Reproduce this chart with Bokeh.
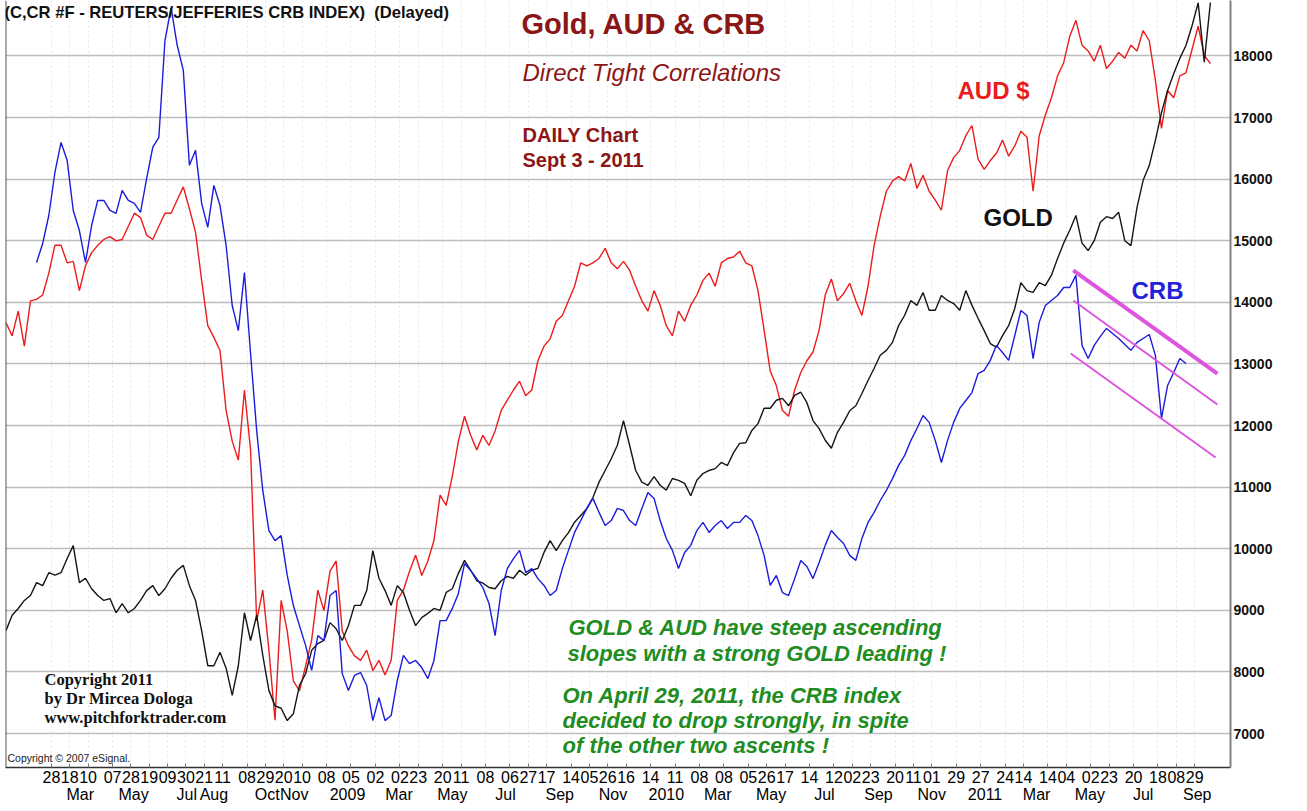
import pandas as pd
from bokeh.plotting import figure
from bokeh.models import Range1d, LinearAxis, FixedTicker, Grid, Label, Span
from bokeh.embed import file_html
from bokeh.resources import INLINE

# ---------------- data ----------------
START_WEEK = "2007-12-07"
N_WEEKS = 198
CRB_FIRST = 5

GOLD = [8670, 8920, 9030, 9160, 9240, 9450, 9400, 9610, 9570, 9610,
        9840, 10050, 9450, 9520, 9350, 9240, 9160, 9190, 8960, 9110,
        8960, 9030, 9160, 9320, 9400, 9240, 9350, 9520, 9650, 9730,
        9400, 9160, 8670, 8100, 8100, 8320, 8060, 7620, 8100, 8960,
        8510, 8920, 8270, 7700, 7450, 7410, 7210, 7320, 7780, 7970,
        8350, 8460, 8510, 8800, 8700, 8510, 8750, 9080, 9080, 9320,
        9970, 9520, 9320, 9080, 9400, 9290, 9000, 8750, 8880, 8950,
        9030, 9000, 9290, 9350, 9600, 9810, 9650, 9480, 9440, 9370,
        9350, 9480, 9550, 9520, 9650, 9570, 9650, 9680, 9940, 10130,
        9970, 10130, 10260, 10430, 10540, 10650, 10830, 11080, 11270, 11460,
        11680, 12080, 11680, 11270, 11080, 11030, 11170, 11030, 10950, 11140,
        11110, 11060, 10860, 11110, 11220, 11270, 11300, 11400, 11350, 11560,
        11710, 11720, 11920, 12030, 12280, 12280, 12410, 12440, 12320, 12490,
        12540, 12370, 12080, 11950, 11760, 11630, 11890, 12050, 12240, 12320,
        12520, 12730, 12930, 13140, 13220, 13350, 13620, 13790, 14030, 13950,
        14160, 13870, 13870, 14110, 14030, 13980, 13870, 14190, 13950, 13740,
        13540, 13330, 13270, 13460, 13620, 13900, 14320, 14190, 14160, 14320,
        14270, 14440, 14710, 14960, 15170, 15410, 14960, 14840, 15000, 15300,
        15390, 15360, 15460, 15000, 14920, 15540, 15980, 16220, 16630, 17080,
        17440, 17710, 17960, 18170, 18490, 18860, 17900, 18867]

AUD = [0.887, 0.878, 0.895, 0.871, 0.902, 0.903, 0.906, 0.921, 0.940, 0.940,
       0.928, 0.929, 0.909, 0.926, 0.935, 0.940, 0.944, 0.946, 0.943, 0.944,
       0.953, 0.962, 0.959, 0.947, 0.944, 0.953, 0.962, 0.962, 0.971, 0.980,
       0.965, 0.949, 0.916, 0.885, 0.877, 0.868, 0.827, 0.806, 0.793, 0.841,
       0.800, 0.683, 0.704, 0.663, 0.615, 0.697, 0.676, 0.642, 0.635, 0.652,
       0.670, 0.704, 0.690, 0.717, 0.724, 0.676, 0.666, 0.659, 0.656, 0.663,
       0.649, 0.656, 0.646, 0.656, 0.697, 0.704, 0.717, 0.728, 0.714, 0.724,
       0.738, 0.769, 0.762, 0.782, 0.806, 0.823, 0.810, 0.800, 0.810, 0.803,
       0.813, 0.827, 0.834, 0.841, 0.847, 0.837, 0.841, 0.861, 0.871, 0.876,
       0.888, 0.892, 0.902, 0.912, 0.928, 0.926, 0.928, 0.931, 0.938, 0.928,
       0.924, 0.929, 0.923, 0.912, 0.902, 0.895, 0.909, 0.899, 0.885, 0.878,
       0.895, 0.888, 0.899, 0.906, 0.916, 0.921, 0.912, 0.928, 0.931, 0.932,
       0.936, 0.928, 0.926, 0.909, 0.882, 0.854, 0.844, 0.827, 0.823, 0.841,
       0.853, 0.861, 0.867, 0.882, 0.906, 0.917, 0.902, 0.907, 0.914, 0.902,
       0.892, 0.912, 0.940, 0.960, 0.977, 0.984, 0.987, 0.984, 0.996, 0.979,
       0.988, 0.977, 0.971, 0.964, 0.991, 1.000, 1.005, 1.015, 1.022, 0.999,
       0.992, 0.998, 1.003, 1.012, 1.001, 1.008, 1.018, 1.014, 0.977, 1.015,
       1.029, 1.041, 1.056, 1.065, 1.083, 1.094, 1.077, 1.073, 1.066, 1.077,
       1.061, 1.066, 1.072, 1.068, 1.077, 1.073, 1.087, 1.080, 1.053, 1.020,
       1.046, 1.041, 1.056, 1.058, 1.074, 1.090, 1.070, 1.06445]

CRB = [376.9, 384.1, 394.7, 411.0, 422.4,
       415.6, 396.6, 389.0, 376.9, 390.9, 400.4, 400.4, 396.6, 395.5, 404.2,
       400.4, 399.3, 395.9, 408.7, 420.5, 424.3, 461.0, 473.5, 459.2, 449.7,
       413.7, 419.4, 399.3, 390.2, 406.1, 398.5, 383.4, 360.6, 351.1, 373.1,
       342.4, 313.2, 290.5, 275.3, 271.5, 273.4, 258.3, 246.9, 239.3, 231.8,
       222.3, 235.5, 233.6, 250.7, 252.6, 221.1, 214.7, 220.4, 221.5, 216.6,
       203.3, 212.0, 203.3, 205.2, 218.5, 228.0, 224.9, 226.1, 223.4, 219.2,
       226.1, 241.2, 241.2, 245.8, 251.5, 262.8, 260.2, 257.1, 253.7, 247.7,
       235.5, 252.6, 260.9, 264.7, 267.8, 259.4, 260.9, 257.1, 254.5, 250.7,
       252.6, 260.9, 267.8, 274.6, 279.1, 283.7, 287.5, 282.2, 277.2, 279.1,
       283.7, 282.9, 279.1, 277.2, 283.7, 289.7, 287.5, 279.1, 272.3, 267.8,
       260.9, 267.0, 269.7, 275.3, 278.4, 274.6, 277.2, 279.1, 276.1, 278.4,
       278.4, 281.0, 279.1, 273.4, 265.9, 254.5, 258.3, 251.8, 250.7, 257.1,
       264.0, 261.7, 257.1, 263.2, 269.7, 275.3, 272.7, 270.4, 265.9, 264.0,
       272.3, 278.4, 282.2, 286.7, 290.5, 295.0, 300.0, 303.8, 309.4, 314.0,
       318.9, 316.3, 309.4, 301.1, 309.4, 316.3, 321.6, 324.6, 327.6, 334.8,
       336.0, 339.8, 345.5, 342.8, 339.8, 349.2, 358.7, 356.8, 340.5, 354.2,
       360.6, 362.5, 364.4, 367.4, 367.4, 372.0, 345.5, 340.5, 345.5, 348.9,
       351.9, 350.0, 348.1, 345.8, 343.6, 346.6, 348.1, 349.6, 341.7, 317.8,
       330.3, 335.2, 340.5, 338.6]

# CRB down-channel drawn on the chart (CRB units)
CHANNEL_DATES = ["2011-04-12", "2011-09-24"]
CHANNEL_UPPER = [373.9, 334.8]
CHANNEL_MID = [362.5, 323.1]
CHANNEL_LOW_DATES = ["2011-04-09", "2011-09-22"]
CHANNEL_LOW = [342.4, 303.0]

PRICE_TICKS = [7000, 8000, 9000, 10000, 11000, 12000, 13000, 14000,
               15000, 16000, 17000, 18000]

DAY_TICKS = ["2008-01-28", "2008-02-18", "2008-03-10", "2008-04-07", "2008-04-28",
             "2008-05-19", "2008-06-09", "2008-06-30", "2008-07-21", "2008-08-11",
             "2008-09-08", "2008-09-29", "2008-10-20", "2008-11-10", "2008-12-08",
             "2009-01-05", "2009-02-02", "2009-03-02", "2009-03-23", "2009-04-20",
             "2009-05-11", "2009-06-08", "2009-07-06", "2009-07-27", "2009-08-17",
             "2009-09-14", "2009-10-05", "2009-10-26", "2009-11-16", "2009-12-14",
             "2010-01-11", "2010-02-08", "2010-03-08", "2010-04-05", "2010-04-26",
             "2010-05-17", "2010-06-14", "2010-07-12", "2010-08-02", "2010-08-23",
             "2010-09-20", "2010-10-11", "2010-11-01", "2010-11-29", "2010-12-27",
             "2011-01-24", "2011-02-14", "2011-03-14", "2011-04-04", "2011-05-02",
             "2011-05-23", "2011-06-20", "2011-07-18", "2011-08-08", "2011-08-29"]

MONTH_TICKS = ["2008-03-01", "2008-05-01", "2008-07-01", "2008-08-01", "2008-10-01",
               "2008-11-01", "2009-01-01", "2009-03-01", "2009-05-01", "2009-07-01",
               "2009-09-01", "2009-11-01", "2010-01-01", "2010-03-01", "2010-05-01",
               "2010-07-01", "2010-09-01", "2010-11-01", "2011-01-01", "2011-03-01",
               "2011-05-01", "2011-07-01", "2011-09-01"]
MONTH_LABELS = ["Mar", "May", "Jul", "Aug", "Oct", "Nov", "2009", "Mar", "May", "Jul",
                "Sep", "Nov", "2010", "Mar", "May", "Jul", "Sep", "Nov", "2011", "Mar",
                "May", "Jul", "Sep"]

# ---------------- layout helpers ----------------
DAY_MS = 86400000.0
X0_MS = pd.Timestamp("2009-01-01").value / 1e6
PX_PER_DAY = 319.0 / 365.25


def xpx(px):
    return X0_MS + (px - 347.0) / PX_PER_DAY * DAY_MS


def ypx(py):
    return 7000.0 + (733.0 - py) * 1000.0 / 61.6


def ms(s):
    return pd.Timestamp(s).value / 1e6


Y_LO, Y_HI = ypx(767), ypx(0)
AUD_RANGE = Range1d(0.61 + (Y_LO - 7097) / 23721.0, 0.61 + (Y_HI - 7097) / 23721.0)
CRB_RANGE = Range1d(200.3 + (Y_LO - 7081) / 42.84, 200.3 + (Y_HI - 7081) / 42.84)

weeks = pd.date_range(START_WEEK, periods=N_WEEKS, freq="7D")
crb_weeks = weeks[CRB_FIRST:CRB_FIRST + len(CRB)]

p = figure(width=1300, height=809, output_backend="svg", toolbar_location=None,
           x_axis_type=None, y_axis_type=None,
           x_range=Range1d(xpx(5), xpx(1230)), y_range=Range1d(Y_LO, Y_HI),
           min_border_left=5, min_border_top=0, min_border_right=70,
           min_border_bottom=42, outline_line_color=None,
           background_fill_color="white", border_fill_color="white")
p.extra_y_ranges = {"aud": AUD_RANGE, "crb": CRB_RANGE}

day_ms = [ms(d) for d in DAY_TICKS]
month_ms = [ms(d) for d in MONTH_TICKS]

# grids
p.add_layout(Grid(dimension=0, ticker=FixedTicker(ticks=day_ms),
                  grid_line_color="#e6e6e6", grid_line_dash="2 3", grid_line_width=1))
p.add_layout(Grid(dimension=1, ticker=FixedTicker(ticks=PRICE_TICKS),
                  grid_line_color="#bdbdbd", grid_line_width=1.5))

# axes
ax_r = LinearAxis(ticker=FixedTicker(ticks=PRICE_TICKS))
ax_r.axis_line_color = "#808080"
ax_r.axis_line_width = 2
ax_r.major_tick_out = 0
ax_r.major_tick_in = 0
ax_r.major_label_standoff = 3
ax_r.major_label_text_font = "Liberation Sans"
ax_r.major_label_text_font_size = "14px"
ax_r.major_label_text_font_style = "bold"
ax_r.major_label_text_color = "#111111"
p.add_layout(ax_r, "right")

AX_FONT = "Liberation Sans"
ax_d = LinearAxis(ticker=FixedTicker(ticks=day_ms, minor_ticks=[]))
ax_d.major_label_overrides = {t: pd.Timestamp(d).strftime("%d") for t, d in zip(day_ms, DAY_TICKS)}
ax_d.axis_line_color = "#333333"
ax_d.axis_line_width = 1.5
ax_d.major_tick_in = 4
ax_d.major_tick_out = 0
ax_d.major_tick_line_color = "#777777"
ax_d.major_label_standoff = 3
ax_d.major_label_text_font = AX_FONT
ax_d.major_label_text_font_size = "16px"
ax_d.major_label_text_color = "#000000"
p.add_layout(ax_d, "below")

ax_m = LinearAxis(ticker=FixedTicker(ticks=month_ms, minor_ticks=[]))
ax_m.major_label_overrides = {t: lab for t, lab in zip(month_ms, MONTH_LABELS)}
ax_m.axis_line_color = None
ax_m.major_tick_line_color = None
ax_m.major_tick_out = 0
ax_m.major_tick_in = 0
ax_m.major_label_standoff = 0
ax_m.major_label_text_font = AX_FONT
ax_m.major_label_text_font_size = "16px"
ax_m.major_label_text_color = "#000000"
p.add_layout(ax_m, "below")

p.add_layout(Span(location=xpx(5), dimension="height", line_color="#555555", line_width=2))

# series
p.line(weeks, AUD, y_range_name="aud", line_color="#ec1c1c", line_width=1.4)
p.line(weeks, GOLD, line_color="#151515", line_width=1.4)
p.line(crb_weeks, CRB, y_range_name="crb", line_color="#1c1cdc", line_width=1.4)

# channel
ch_x = [pd.Timestamp(d) for d in CHANNEL_DATES]
ch_xl = [pd.Timestamp(d) for d in CHANNEL_LOW_DATES]
p.line(ch_x, CHANNEL_UPPER, y_range_name="crb", line_color="#dd55dd", line_width=4)
p.line(ch_x, CHANNEL_MID, y_range_name="crb", line_color="#dd55dd", line_width=2)
p.line(ch_xl, CHANNEL_LOW, y_range_name="crb", line_color="#dd55dd", line_width=2)

# texts
MAROON = "#8c1616"
GREEN = "#218c21"


def lab(text, px, py, size, color, style="normal", font="Liberation Sans"):
    p.add_layout(Label(x=xpx(px), y=ypx(py), text=text, text_font=font,
                       text_font_size=f"{size}px", text_font_style=style,
                       text_color=color, text_align="left", text_baseline="middle"))


lab("(C,CR #F - REUTERS/JEFFERIES CRB INDEX)\u00a0\u00a0(Delayed)", 4, 12, 16.6, "#111111", "bold")
lab("Gold, AUD & CRB", 521, 23, 29, MAROON, "bold")
lab("Direct Tight Correlations", 522, 72, 24, MAROON, "italic")
lab("DAILY Chart", 522, 134, 20, MAROON, "bold")
lab("Sept 3 - 2011", 522, 159, 20, MAROON, "bold")
lab("AUD $", 957, 90, 24, "#e81c1c", "bold")
lab("GOLD", 983, 217, 24, "#111111", "bold")
lab("CRB", 1131, 290, 24, "#2222dd", "bold")
lab("GOLD & AUD have steep ascending", 568, 627, 22, GREEN, "bold italic")
lab("slopes with a strong GOLD leading !", 567, 653, 22, GREEN, "bold italic")
lab("On April 29, 2011, the CRB index", 562, 695, 22, GREEN, "bold italic")
lab("decided to drop strongly, in spite", 562, 720, 22, GREEN, "bold italic")
lab("of the other two ascents !", 562, 745, 22, GREEN, "bold italic")
lab("Copyright 2011", 44, 679, 16.5, "#111111", "bold", "Liberation Serif")
lab("by Dr Mircea Dologa", 44, 698, 16.5, "#111111", "bold", "Liberation Serif")
lab("www.pitchforktrader.com", 44, 717, 16.5, "#111111", "bold", "Liberation Serif")
lab("Copyright \u00a9 2007 eSignal.", 7, 757, 10.5, "#222222")

# last-value boxes on the right edge
XE = xpx(1230)
p.add_layout(Label(x=XE, y=GOLD[-1], x_offset=2, y_offset=-6, text=f"{GOLD[-1]}",
                   text_font="Liberation Sans", text_font_size="14px", text_font_style="bold",
                   text_color="white", background_fill_color="#000000", padding=1,
                   text_align="left", text_baseline="middle"))
p.add_layout(Label(x=XE, y=AUD[-1], y_range_name="aud", x_offset=2, text=f"{AUD[-1]:.5f}",
                   text_font="Liberation Sans", text_font_size="16px", text_font_style="bold",
                   text_color="white", background_fill_color="#ee1111", padding=2,
                   text_align="left", text_baseline="middle"))
p.add_layout(Label(x=XE, y=CRB[-1], y_range_name="crb", x_offset=2,
                   text=f"{int(round(CRB[-1] * 100))}",
                   text_font="Liberation Sans", text_font_size="14px",
                   text_color="white", background_fill_color="#1c1ce0", padding=1,
                   text_align="left", text_baseline="middle"))

open("out.html", "w").write(file_html(p, INLINE))
